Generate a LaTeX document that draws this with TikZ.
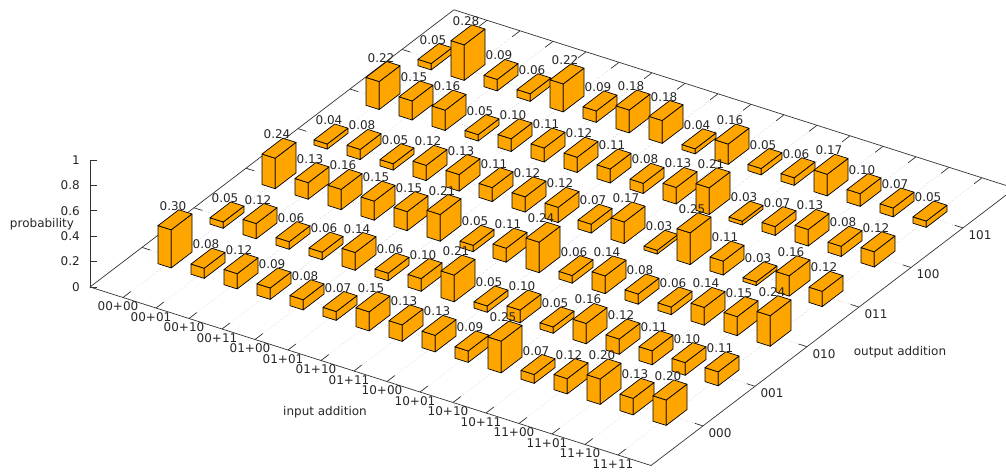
\documentclass[tikz,border=0pt]{standalone}
\usepackage{fontspec}
\setmainfont{DejaVu Sans}
\usepackage{tikz}
\definecolor{barorange}{RGB}{255,165,0}

\begin{document}
\begin{tikzpicture}[font=\fontsize{12pt}{14pt}\selectfont, text=black!85,
    axisline/.style = {draw=black!80, line width=0.7pt},
    basegrid/.style = {draw=black!30, dotted, line width=0.5pt},
    bar/.style = {draw=black, fill=barorange, line width=0.7pt, line join=round},
    val/.style = {font=\fontsize{12pt}{14pt}\selectfont, anchor=base, inner sep=0pt, xshift=-2pt, yshift=9.5pt},
    xlbl/.style = {inner sep=0pt, xshift=-5pt, yshift=-9pt},
    ylbl/.style = {inner sep=0pt, xshift=17pt, yshift=-7pt},
    zlbl/.style = {inner sep=0pt, anchor=east, xshift=-10pt}]
    \useasboundingbox (0,0) rectangle (1006pt,472pt);

    \begin{scope}[x={(33pt,-10.5pt)}, y={(52pt,39.6pt)}, z={(0pt,127pt)}, shift={(175pt,214.1pt)}]
        % base grid
        \foreach \i in {0,...,15}
            \draw[basegrid] (\i,-1,0) -- (\i,6,0);
        \foreach \j in {0,...,5}
            \draw[basegrid] (-1,\j,0) -- (16,\j,0);
        % border and axes
        \draw[axisline] (-1,-1,0) -- (16,-1,0) -- (16,6,0) -- (-1,6,0) -- cycle;
        \draw[axisline] (-1,-1,0) -- (-1,-1,1);
        \foreach \lab [count=\i from 0] in {00+00,00+01,00+10,00+11,01+00,01+01,01+10,01+11,10+00,10+01,10+10,10+11,11+00,11+01,11+10,11+11} {
            \draw[axisline] (\i,-1,0) -- (\i,-0.85,0);
            \draw[axisline] (\i,6,0) -- (\i,5.85,0);
            \node[xlbl] (in\i) at (\i,-1,0) {\lab};
        }
        \foreach \lab [count=\j from 0] in {000,001,010,011,100,101} {
            \draw[axisline] (16,\j,0) -- (15.75,\j,0);
            \draw[axisline] (-1,\j,0) -- (-0.75,\j,0);
            \node[ylbl] (out\j) at (16,\j,0) {\lab};
        }
        \foreach \v [count=\k] in {0,0.2,0.4,0.6,0.8,1} {
            \draw[axisline] (-1,-1,\v) -- ++(7pt,0);
            \node[zlbl] (p\k) at (-1,-1,\v) {\v};
        }
        % bars, back rows first
        \foreach \j/\vals in {
            5/{0.05,0.28,0.09,0.06,0.22,0.09,0.18,0.18,0.04,0.16,0.05,0.06,0.17,0.10,0.07,0.05},
            4/{0.22,0.15,0.16,0.05,0.10,0.11,0.12,0.11,0.08,0.13,0.21,0.03,0.07,0.13,0.08,0.12},
            3/{0.04,0.08,0.05,0.12,0.13,0.11,0.12,0.12,0.07,0.17,0.03,0.25,0.11,0.03,0.16,0.12},
            2/{0.24,0.13,0.16,0.15,0.15,0.21,0.05,0.11,0.24,0.06,0.14,0.08,0.06,0.14,0.15,0.24},
            1/{0.05,0.12,0.06,0.06,0.14,0.06,0.10,0.21,0.05,0.10,0.05,0.16,0.12,0.11,0.10,0.11},
            0/{0.30,0.08,0.12,0.09,0.08,0.07,0.15,0.13,0.13,0.09,0.25,0.07,0.12,0.20,0.13,0.20}} {
            \foreach \h [count=\i from 0] in \vals {
                \draw[bar] (\i-0.2,\j-0.2,0) -- (\i+0.2,\j-0.2,0) -- (\i+0.2,\j-0.2,\h) -- (\i-0.2,\j-0.2,\h) -- cycle;
                \draw[bar] (\i+0.2,\j-0.2,0) -- (\i+0.2,\j+0.2,0) -- (\i+0.2,\j+0.2,\h) -- (\i+0.2,\j-0.2,\h) -- cycle;
                \draw[bar] (\i-0.2,\j-0.2,\h) -- (\i+0.2,\j-0.2,\h) -- (\i+0.2,\j+0.2,\h) -- (\i-0.2,\j+0.2,\h) -- cycle;
                \node[val] (v\i-\j) at (\i,\j,\h) {\h};
            }
        }
    \end{scope}

    % axis titles
    \node (prob) at (42pt,248pt) {probability};
    \node (inadd) at (325pt,60pt) {input addition};
    \node (outadd) at (900pt,120pt) {output addition};
\end{tikzpicture}
\end{document}
